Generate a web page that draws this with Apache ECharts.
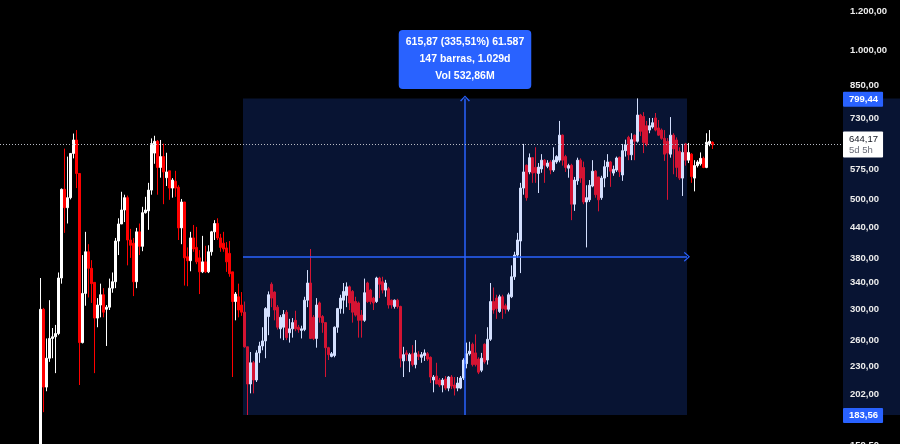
<!DOCTYPE html>
<html>
<head>
<meta charset="utf-8">
<script src="https://cdn.jsdelivr.net/npm/echarts@6/dist/echarts.min.js"></script>
<style>
html,body{margin:0;padding:0;background:#000;}
#c{width:900px;height:444px;}
</style>
</head>
<body>
<div id="c"></div>
<script>
// Weekly candles: [open, close, low, high]
const candles = [
[150,300,140,347],[300,209,186,302],[209,239,205,262],[239,262,235,313],[262,264,239,275],
[264,268,223,279],[268,347,266,356],[347,524,338,526],[524,481,428,633],[481,504,447,610],
[504,619,500,619],[619,659,605,679],[659,564,527,690],[564,257,211,564],[257,323,256,386],
[323,392,305,430],[392,363,317,406],[363,338,309,377],[340,288,223,340],[288,306,276,316],
[306,321,289,338],[321,296,289,331],[300,303,253,306],[303,331,299,346],[331,341,324,356],
[341,412,331,418],[412,446,386,458],[446,476,446,518],[476,504,450,511],[504,414,368,509],
[414,404,381,436],[408,341,319,418],[341,430,331,438],[430,402,386,447],[402,470,393,483],
[470,476,468,506],[474,522,434,540],[522,648,511,664],[620,655,590,672],[655,580,511,659],
[580,610,553,659],[610,568,489,648],[553,568,532,621],[571,527,499,571],[527,547,504,552],
[544,527,506,571],[529,438,414,534],[438,494,406,501],[494,381,335,494],[383,376,334,400],
[376,418,358,430],[418,397,392,444],[400,374,370,440],[381,357,322,395],[357,374,355,422],
[374,357,355,403],[357,392,355,404],[392,430,385,432],[430,447,414,454],[447,418,414,458],
[418,400,392,426],[408,397,392,430],[399,374,357,410],[389,354,349,412],[357,311,219,357],
[311,322,285,325],[318,299,289,338],[306,296,291,325],[296,252,251,311],[252,212,183.56,252],
[212,234,203,246],[234,216,203,236],[216,245,214,248],[245,253,234,258],[253,259,248,276],
[259,301,239,303],[290,321,266,326],[337,316,303,340],[325,299,285,326],[303,276,273,306],
[274,289,262,292],[276,293,260,299],[296,263,260,299],[269,274,257,287],[274,282,263,288],
[285,274,271,298],[276,273,269,279],[272,274,262,278],[273,313,271,318],[313,339,303,360],
[339,262,262,397],[289,262,260,292],[262,306,251,316],[309,289,282,311],[290,282,269,292],
[282,251,219,282],[251,243,237,252],[241,244,240,246],[242,276,240,277],[276,301,269,302],
[301,316,294,321],[313,326,294,339],[320,333,303,340],[333,309,299,335],[326,296,282,328],
[311,292,290,318],[309,285,263,311],[292,285,263,299],[285,324,283,346],[339,311,309,341],
[328,311,307,330],[316,309,299,318],[311,347,309,349],[347,337,316,349],[341,328,323,349],
[328,339,318,344],[330,306,301,333],[313,306,301,314],[304,313,301,314],[313,304,301,315],
[304,239,229,305],[236,243,219,252],[245,243,236,248],[236,243,224,245],[244,232,230,254],
[232,245,228,260],[243,241,237,247],[240,243,234,246],[242,245,236,249],[244,238,236,246],
[240,219,213,241],[216,219,204,221],[220,212,212,234],[216,211,209,218],[211,216,204,218],
[217,208,206,220],[208,219,205,220],[219,210,207,221],[211,208,201,219],[208,213,205,219],
[208,218,207,220],[218,237,216,239],[233,244,228,257],[244,247,242,258],[255,232,230,257],
[245,232,230,267],[238,224,222,240],[226,239,224,245],[255,235,233,256],[237,261,232,276],
[261,311,259,339],[311,299,294,332],[316,301,287,321],[297,318,295,321],[318,301,287,321],
[305,300,294,308],[300,321,297,324],[318,349,316,368],[349,386,344,392],[386,414,381,428],
[412,527,355,540],[527,568,511,647],[586,504,497,588],[568,607,562,619],[607,565,540,607],
[580,566,540,637],[564,581,515,592],[576,600,566,617],[600,586,540,603],[583,592,578,600],
[595,573,562,600],[573,600,568,637],[595,610,590,614],[600,674,594,720],[674,600,585,676],
[610,580,568,615],[578,585,553,590],[586,489,454,590],[489,547,474,555],[545,600,535,607],
[600,552,540,605],[580,494,489,596],[494,504,400,534],[499,534,494,547],[532,570,529,600],
[570,511,504,573],[555,499,473,555],[504,552,499,558],[552,582,529,600],[582,595,555,617],
[595,570,530,598],[565,575,558,585],[573,606,568,610],[608,568,555,610],[560,627,545,647],
[627,644,610,660],[667,615,600,672],[615,660,600,680],[674,655,600,676],[655,740,651,799.44],
[740,686,671,744],[735,651,620,750],[704,646,640,720],[690,704,680,730],[700,714,695,730],
[730,690,686,747],[697,674,672,723],[690,664,660,695],[664,617,598,690],[655,620,499,665],
[617,674,607,733],[674,632,562,680],[659,580,555,667],[625,552,547,637],[552,622,508,647],
[647,600,585,650],[600,622,592,650],[617,556,540,620],[552,585,519,600],[585,595,580,600],
[590,605,585,622],[605,580,578,610],[580,652,578,680],[648,655,640,690],[652,644.17,632,655]
];
const priceTicks = [159.5, 202, 230, 260, 300, 340, 380, 440, 500, 575, 730, 850, 1000, 1200];
const leadEmpty = 13;
const trailEmpty = 43;
const yMin = 158.2, yMax = 1263;
const rangeHigh = 799.44, rangeLow = 183.56;
const rangeStartSlot = 81, rangeEndSlot = 229, rangeMidSlot = 155;
const lastPrice = 644.17, lastCountdown = '5d 5h';
const measureLines = ['615,87 (335,51%) 61.587', '147 barras, 1.029d', 'Vol 532,86M'];
const measureAnchorPrice = 958;

const L = Math.log;
function fmt(v){
  const s = v.toFixed(2).split('.');
  return s[0].replace(/\B(?=(\d{3})+(?!\d))/g, '.') + ',' + s[1];
}
const seriesData = [];
for (let i = 0; i < leadEmpty; i++) seriesData.push('-');
candles.forEach(c => seriesData.push(c.map(L)));
for (let i = 0; i < trailEmpty; i++) seriesData.push('-');
const cats = seriesData.map((_, i) => 'w' + i);
const nSlots = cats.length;
const BLUE = '#2962ff';
const chevron = 'path://M0,9 L5,0 L10,9 L8.8,9.9 L5,2.6 L1.2,9.9 Z';
const lnMid = (L(rangeHigh) + L(rangeLow)) / 2;

const chart = echarts.init(document.getElementById('c'), null, {renderer: 'canvas'});
const option = {
  backgroundColor: '#000000',
  animation: false,
  grid: {left: 0, right: 57, top: 0, height: 447, containLabel: false, outerBoundsMode: 'none'},
  xAxis: [
    {type: 'category', data: cats, show: false, boundaryGap: true},
    {type: 'value', min: 0, max: nSlots, show: false}
  ],
  yAxis: {
    type: 'value', position: 'right', min: L(yMin), max: L(yMax),
    splitLine: {show: false}, axisLine: {show: false}, axisTick: {show: false},
    axisLabel: {
      customValues: priceTicks.map(L),
      formatter: v => fmt(Math.exp(v)),
      color: '#ececec', fontSize: 9.5, fontWeight: 600, fontFamily: 'Liberation Sans',
      align: 'left', margin: 7
    }
  },
  series: [
    {
      type: 'candlestick', data: seriesData, barWidth: 2, z: 2,
      itemStyle: {color: '#ffffff', color0: '#ff0000', borderColor: '#ffffff', borderColor0: '#ff0000', borderWidth: 1},
      markLine: {
        silent: true, symbol: 'none', animation: false, z: 6,
        data: [
          {yAxis: L(lastPrice), lineStyle: {type: [1, 2], color: '#b8bbc4', width: 1},
           label: {show: true, position: 'end', distance: 0, formatter: '{a|' + fmt(lastPrice) + '}\n{b|' + lastCountdown + '}',
             backgroundColor: '#ffffff', padding: [2, 5, 2, 6], borderRadius: 1,
             rich: {a: {color: '#131722', fontSize: 9.5, lineHeight: 11, fontFamily: 'Liberation Sans'},
                    b: {color: '#6a6d78', fontSize: 9.5, lineHeight: 11, fontFamily: 'Liberation Sans'}}}},
          {yAxis: L(rangeHigh), lineStyle: {color: 'rgba(0,0,0,0)', width: 0},
           label: {show: true, position: 'end', distance: 0, formatter: fmt(rangeHigh), backgroundColor: BLUE,
             color: '#fff', fontSize: 9.5, fontWeight: 600, fontFamily: 'Liberation Sans', lineHeight: 11, padding: [2, 5, 2, 6], borderRadius: 1}},
          {yAxis: L(rangeLow), lineStyle: {color: 'rgba(0,0,0,0)', width: 0},
           label: {show: true, position: 'end', distance: 0, formatter: fmt(rangeLow), backgroundColor: BLUE,
             color: '#fff', fontSize: 9.5, fontWeight: 600, fontFamily: 'Liberation Sans', lineHeight: 11, padding: [2, 5, 2, 6], borderRadius: 1}}
        ]
      }
    },
    {
      type: 'line', xAxisIndex: 1, yAxisIndex: 0, data: [], z: 5, silent: true,
      markArea: {
        silent: true, z: 4,
        itemStyle: {color: 'rgba(41,98,255,0.2)'},
        data: [[{coord: [rangeStartSlot, L(rangeHigh)]}, {coord: [rangeEndSlot, L(rangeLow)]}]]
      },
      markLine: {
        silent: true, z: 5, symbol: ['none', chevron], symbolSize: [10, 6],
        lineStyle: {color: BLUE, width: 1.5, type: 'solid'},
        label: {show: false},
        data: [
          [{coord: [rangeStartSlot, lnMid]}, {coord: [rangeEndSlot, lnMid]}],
          [{coord: [rangeMidSlot, L(rangeLow)]}, {coord: [rangeMidSlot, L(rangeHigh)]}]
        ]
      },
      markPoint: {
        silent: true, z: 7, symbol: 'rect', symbolSize: 1, itemStyle: {color: 'rgba(0,0,0,0)'},
        data: [{coord: [rangeMidSlot, L(measureAnchorPrice)]}],
        label: {
          show: true, position: 'inside', formatter: measureLines.join('\n'),
          backgroundColor: BLUE, borderRadius: 4, padding: [4, 7],
          color: '#ffffff', fontSize: 10.5, fontWeight: 600, fontFamily: 'Liberation Sans',
          lineHeight: 17, align: 'center'
        }
      }
    }
  ]
};
chart.setOption(option);

// Navy band in the price-scale area for the measured range
const yTop = chart.convertToPixel({yAxisIndex: 0}, L(rangeHigh));
const yBot = chart.convertToPixel({yAxisIndex: 0}, L(rangeLow));
const xRight = chart.convertToPixel({xAxisIndex: 1}, nSlots);
chart.setOption({
  graphic: [{
    type: 'rect', z: -10, silent: true,
    shape: {x: xRight, y: yTop, width: 900 - xRight, height: yBot - yTop},
    style: {fill: 'rgba(41,98,255,0.2)'}
  }]
});
</script>
</body>
</html>
